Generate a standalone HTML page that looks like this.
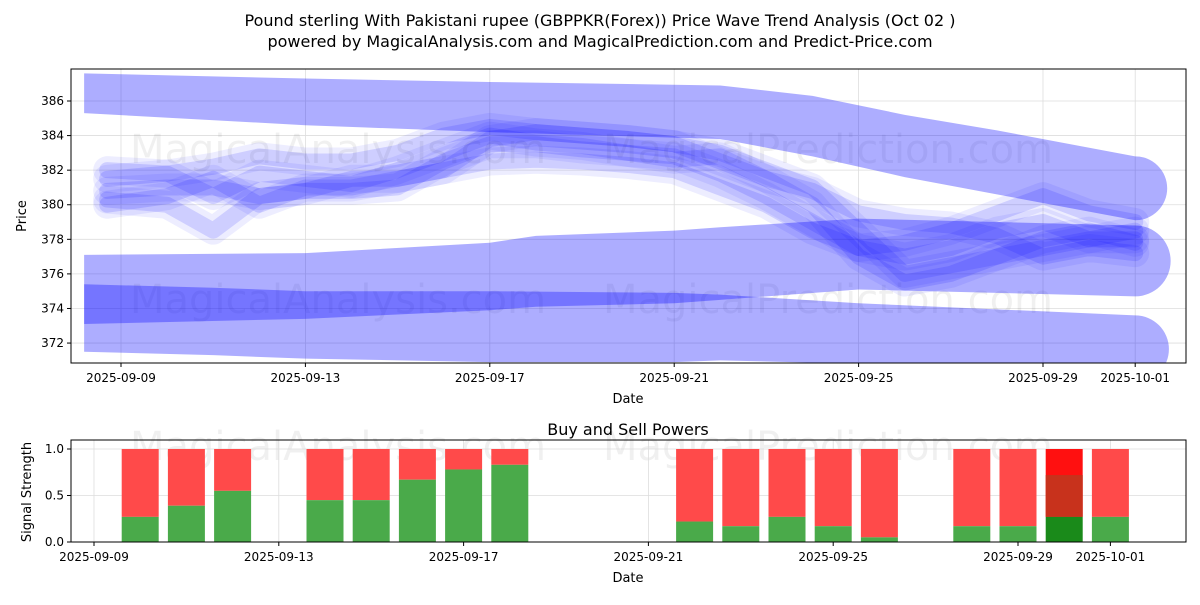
<!DOCTYPE html>
<html><head><meta charset="utf-8"><style>
body{margin:0;background:#fff;font-family:"Liberation Sans","DejaVu Sans",sans-serif}
svg text{font-family:"DejaVu Sans","Liberation Sans",sans-serif}
</style></head><body>
<svg id="c" width="1200" height="600" xmlns="http://www.w3.org/2000/svg"></svg>
<script>
// ---- data ----
const dayLabels=["2025-09-09","2025-09-13","2025-09-17","2025-09-21","2025-09-25","2025-09-29","2025-10-01"];
const dayTicks=[0,4,8,12,16,20,22];
const priceTicks=[372,374,376,378,380,382,384,386];
const bandADays=[-0.8,4,8,13,15,17,19,22], bandATop=[387.6,387.3,387.1,386.9,386.3,385.2,384.3,382.8], bandABot=[385.3,384.6,384.2,383.8,382.8,381.6,380.6,379.1];
const bandBDays=[-0.8,4,8,9,12,13,16,22], bandBTop=[377.1,377.2,377.8,378.2,378.5,378.7,379.2,378.8], bandBBot=[373.1,373.4,373.9,374.1,374.3,374.5,375.1,374.7];
const bandDDays=[-0.8,2,4,8,12,13,16,22], bandDTop=[375.4,375.2,375,375,374.9,374.8,374.3,373.6], bandDBot=[371.5,371.3,371.1,370.9,370.9,371,370.8,369.7];
const line1=[380,380.5,381.5,380,381,381,381.5,382,383.8,384.2,384,383.8,383.5,383,382,381,378.5,376,376.5,377,377.5,378,378];
const line2=[381.5,381.8,380.5,381.8,381.5,381.2,382,383,384,383.6,383.4,383,382.6,382.8,381.5,380,377,375.5,376,377,378,378.5,377.8];
const line3=[380.3,380,378.5,380.5,380.8,380.8,381,382.5,383.5,383.5,383.2,383,382.8,381.8,380.5,379,377.5,377,377.5,378.5,379,378,378.5];
const line4=[382,381.8,382.2,382.8,382.5,382.5,383,384,384.5,384.2,384,383.8,383.5,382.5,381.5,380.8,379.5,379,378.8,378.2,377,377.5,377.2];
const line5=[380.8,381,381,380.5,380.8,381.5,381.5,382,382.5,382.6,382.5,382.3,382,381,380,378.5,377.5,377.8,378.5,379.5,380.5,379.5,379];
const barDays=[1,2,3,5,6,7,8,9,13,14,15,16,17,19,20,21,22];
const buyPower=[0.27,0.39,0.55,0.45,0.45,0.67,0.78,0.83,0.22,0.17,0.27,0.17,0.05,0.17,0.17,0.27,0.27];
const strengthTicks=[0,0.5,1.0];
// ---- axes ----
const NS="http://www.w3.org/2000/svg", svg=document.getElementById('c');
function el(t,a,p){const e=document.createElementNS(NS,t);for(const k in a)e.setAttribute(k,a[k]);(p||svg).appendChild(e);return e;}
const X=d=>121+d*46.1, Y=v=>101+(386-v)*17.29;
const XB=d=>94+d*46.2, YB=v=>542-v*93;
let t=el('text',{x:600,y:26,'text-anchor':'middle','font-size':16});t.textContent="Pound sterling With Pakistani rupee (GBPPKR(Forex)) Price Wave Trend Analysis (Oct 02 )";

t=el('text',{x:600,y:47,'text-anchor':'middle','font-size':16});t.textContent="powered by MagicalAnalysis.com and MagicalPrediction.com and Predict-Price.com";

const gTop=el('g',{});
dayTicks.forEach(d=>el('line',{x1:X(d),x2:X(d),y1:69,y2:363,stroke:'#ddd','stroke-width':0.8},gTop));
priceTicks.forEach(v=>el('line',{x1:71,x2:1186,y1:Y(v),y2:Y(v),stroke:'#ddd','stroke-width':0.8},gTop));
function wm(x,y,s,txt){const w=el('text',{x,y,'font-size':s,fill:'#000','fill-opacity':0.06});w.textContent=txt;}
wm(130,163,40,"MagicalAnalysis.com");wm(603,163,40,"MagicalPrediction.com");
wm(130,313,40,"MagicalAnalysis.com");wm(603,313,40,"MagicalPrediction.com");
wm(130,460,40,"MagicalAnalysis.com");wm(603,460,40,"MagicalPrediction.com");
const defs=el('defs',{});const cp=el('clipPath',{id:'ct'},defs);el('rect',{x:71,y:69,width:1115,height:294},cp);
const plot=el('g',{'clip-path':'url(#ct)'});
function band(ds,tp,bt,name){
  let top=ds.map((d,i)=>X(d)+','+Y(tp[i])), bot=ds.map((d,i)=>X(d)+','+Y(bt[i])).reverse();
  const g=el('g',{fill:'#0000ff','fill-opacity':0.32},plot);
  const n=ds.length-1, r=(Y(bt[n])-Y(tp[n]))/2;
  el('path',{d:'M'+top.join('L')+'A'+r+','+r+' 0 0 1 '+bot[0]+'L'+bot.join('L')+'Z'},g);
}
band(bandADays,bandATop,bandABot,'wave-band-upper');
band(bandBDays,bandBTop,bandBBot,'wave-band-middle');
band(bandDDays,bandDTop,bandDBot,'wave-band-bottom');
[line1,line2,line3,line4,line5].forEach((L,k)=>{
  const pts=L.map((v,i)=>X(i===0?-0.3:i)+','+Y(v)).join(' ');
  const p2=el('polyline',{points:pts,fill:'none',stroke:'#0000ff','stroke-opacity':0.07,'stroke-width':28,'stroke-linejoin':'round','stroke-linecap':'round'},plot);
  
  const p=el('polyline',{points:pts,fill:'none',stroke:'#0000ff','stroke-opacity':0.13,'stroke-width':16,'stroke-linejoin':'round','stroke-linecap':'round'},plot);
  
});
el('rect',{x:71,y:69,width:1115,height:294,fill:'none',stroke:'#000','stroke-width':1});
dayTicks.forEach((d,i)=>{el('line',{x1:X(d),x2:X(d),y1:363,y2:367,stroke:'#000'});const s=el('text',{x:X(d),y:382,'text-anchor':'middle','font-size':12});s.textContent=dayLabels[i];});
priceTicks.forEach(v=>{el('line',{x1:67,x2:71,y1:Y(v),y2:Y(v),stroke:'#000'});const s=el('text',{x:64,y:Y(v)+4,'text-anchor':'end','font-size':12});s.textContent=v;});
t=el('text',{x:628,y:403,'text-anchor':'middle','font-size':13});t.textContent="Date";
t=el('text',{x:26,y:216,'text-anchor':'middle','font-size':13,transform:'rotate(-90 26 216)'});t.textContent="Price";
t=el('text',{x:628,y:435,'text-anchor':'middle','font-size':16});t.textContent="Buy and Sell Powers";
const gB=el('g',{});
dayTicks.forEach(d=>el('line',{x1:XB(d),x2:XB(d),y1:440,y2:542,stroke:'#ddd','stroke-width':0.8},gB));
strengthTicks.forEach(v=>el('line',{x1:71,x2:1186,y1:YB(v),y2:YB(v),stroke:'#ddd','stroke-width':0.8},gB));
barDays.forEach((d,i)=>{
  const g=el('g',{});
  const x=XB(d)-18.5, special=(d===21);
  el('rect',{x,y:YB(1),width:37,height:YB(buyPower[i])-YB(1),fill:special?'#ff1010':'#ff4a4a'},g);
  if(special) el('rect',{x,y:YB(0.72),width:37,height:YB(buyPower[i])-YB(0.72),fill:'#c8321c'},g);
  el('rect',{x,y:YB(buyPower[i]),width:37,height:YB(0)-YB(buyPower[i]),fill:special?'#1a8a1a':'#4aaa4a'},g);
});
el('rect',{x:71,y:440,width:1115,height:102,fill:'none',stroke:'#000','stroke-width':1});
dayTicks.forEach((d,i)=>{el('line',{x1:XB(d),x2:XB(d),y1:542,y2:546,stroke:'#000'});const s=el('text',{x:XB(d),y:561,'text-anchor':'middle','font-size':12});s.textContent=dayLabels[i];});
strengthTicks.forEach(v=>{el('line',{x1:67,x2:71,y1:YB(v),y2:YB(v),stroke:'#000'});const s=el('text',{x:64,y:YB(v)+4,'text-anchor':'end','font-size':12});s.textContent=v.toFixed(1);});
t=el('text',{x:628,y:582,'text-anchor':'middle','font-size':13});t.textContent="Date";
t=el('text',{x:31,y:492,'text-anchor':'middle','font-size':13,transform:'rotate(-90 31 492)'});t.textContent="Signal Strength";
</script>
</body></html>
